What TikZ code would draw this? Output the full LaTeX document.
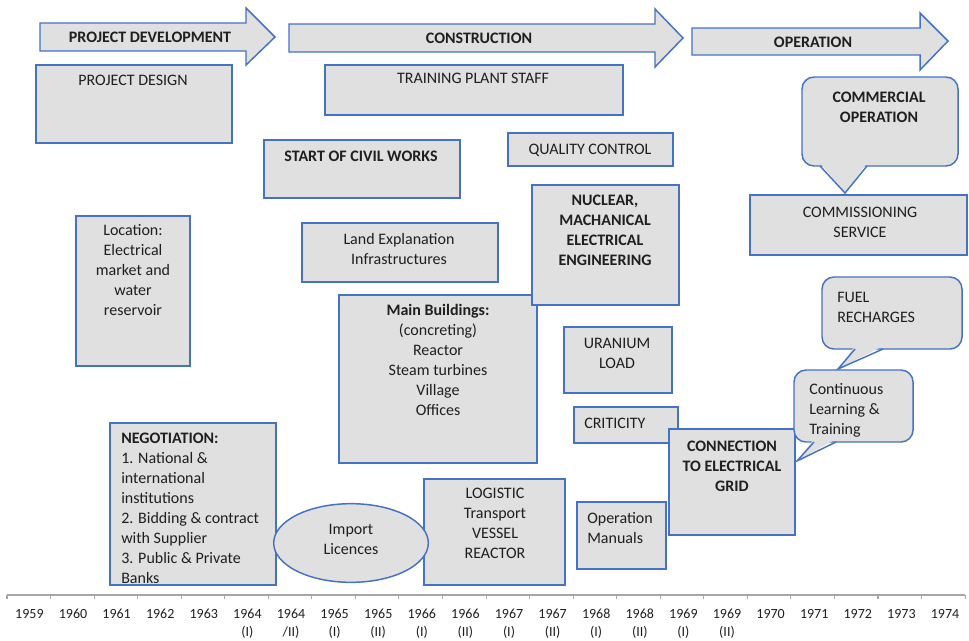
\documentclass[tikz,border=0pt]{standalone}
\usepackage{fontspec}
\setmainfont{Carlito}
\usetikzlibrary{fit,shapes.geometric}
\definecolor{boxfill}{HTML}{E0E0E0}
\definecolor{boxline}{HTML}{4472C4}
\definecolor{inkgray}{HTML}{1F1F1F}
\definecolor{axisgray}{HTML}{A6A6A6}

\begin{document}
\begin{tikzpicture}[
	x=0.75pt, y=-0.75pt,
	every node/.style={inner sep=0pt, text=inkgray, font=\fontsize{12}{15}\selectfont},
	box/.style={draw=boxline, fill=boxfill, line width=1.1pt},
	phase/.style={draw=boxline, fill=boxfill, line width=1.1pt, line join=miter},
	bubble/.style={draw=boxline, fill=boxfill, line width=1.1pt, rounded corners=9pt},
	txt/.style={align=center, anchor=base},
	lefttxt/.style={align=left, anchor=base west},
	boldtxt/.style={align=center, anchor=base, font=\fontsize{12}{15}\selectfont\bfseries},
	axisline/.style={draw=axisgray, line width=0.8pt},
	yearlbl/.style={anchor=base, font=\fontsize{10.5}{13.5}\selectfont}
	]
	\useasboundingbox (0,0) rectangle (969,640);

	% phases
	\draw[phase] (40,23) -- (246,23) -- (246,8) -- (275,37) -- (246,65) -- (246,51) -- (40,51) -- cycle;
	\draw[phase] (289,24) -- (655,24) -- (655,9) -- (683,38) -- (655,67) -- (655,52) -- (289,52) -- cycle;
	\draw[phase] (692,28) -- (920,28) -- (920,13) -- (948,41) -- (920,70) -- (920,55) -- (692,55) -- cycle;
	\node[boldtxt] (devlbl) at (150,42) {PROJECT DEVELOPMENT};
	\node[boldtxt] (constrlbl) at (479,43) {CONSTRUCTION};
	\node[boldtxt] (operlbl) at (813,47) {OPERATION};

	% boxes
	\node[box, fit={(36,65) (232,143)}] (design) {};
	\node[box, fit={(325,65) (623,115)}] (training) {};
	\node[box, fit={(750,195) (967,255)}] (commission) {};
	\node[box, fit={(264,140) (460,198)}] (civil) {};
	\node[box, fit={(508,133) (673,166)}] (quality) {};
	\node[box, fit={(302,223) (498,282)}] (land) {};
	\node[box, fit={(339,295) (537,463)}] (buildings) {};
	\node[box, fit={(532,185) (679,305)}] (engineering) {};
	\node[box, fit={(76,216) (190,366)}] (location) {};
	\node[box, fit={(564,327) (672,393)}] (uranium) {};
	\node[box, fit={(574,407) (678,443)}] (criticity) {};
	\node[box, fit={(669,429) (795,535)}] (grid) {};
	\node[box, fit={(110,423) (276,585)}] (negotiation) {};
	\node[box, fit={(424,479) (565,585)}] (logistic) {};
	\node[box, fit={(577,502) (666,569)}] (manuals) {};
	\node[box, ellipse, minimum width=116pt, minimum height=59pt] (licences) at (351,543) {};

	% callouts
	\draw[bubble] (802,77) rectangle (958,166);
	\fill[boxfill] (820,163) -- (845,193) -- (867,163) -- cycle;
	\draw[boxline, line width=1.1pt] (820,166) -- (845,193) -- (867,166);
	\draw[bubble] (822,277) rectangle (962,349);
	\fill[boxfill] (855,346) -- (838,369) -- (883,346) -- cycle;
	\draw[boxline, line width=1.1pt] (855,349) -- (838,369) -- (883,349);
	\draw[bubble] (794,370) rectangle (913,442);
	\fill[boxfill] (814,439) -- (797,461) -- (836,439) -- cycle;
	\draw[boxline, line width=1.1pt] (814,442) -- (797,461) -- (836,442);

	% texts (base = last line)
	\node[txt] (designlbl) at (133,85) {PROJECT DESIGN};
	\node[txt] (traininglbl) at (473,83) {TRAINING PLANT STAFF};
	\node[boldtxt] (commerciallbl) at (879,122) {COMMERCIAL\\OPERATION};
	\node[txt] (commissionlbl) at (860,237) {COMMISSIONING\\SERVICE};
	\node[boldtxt] (civillbl) at (361,161) {START OF CIVIL WORKS};
	\node[txt] (qualitylbl) at (590,154) {QUALITY CONTROL};
	\node[boldtxt] (engineeringlbl) at (605,265) {NUCLEAR,\\MACHANICAL\\ELECTRICAL\\ENGINEERING};
	\node[txt] (landlbl) at (399,264) {Land Explanation\\Infrastructures};
	\node[txt] (buildingslbl) at (438,415) {\textbf{Main Buildings:}\\(concreting)\\Reactor\\Steam turbines\\Village\\Offices};
	\node[txt] (locationlbl) at (133,315) {Location:\\Electrical\\market and\\water\\reservoir};
	\node[txt] (uraniumlbl) at (617,368) {URANIUM\\LOAD};
	\node[lefttxt] (criticitylbl) at (584,428) {CRITICITY};
	\node[boldtxt] (gridlbl) at (732,491) {CONNECTION\\TO ELECTRICAL\\GRID};
	\node[lefttxt] (fuellbl) at (837,322) {FUEL\\RECHARGES};
	\node[lefttxt] (learninglbl) at (809,434) {Continuous\\Learning \&\\Training};
	\node[lefttxt] (negotiationlbl) at (121,583) {\textbf{NEGOTIATION:}\\1. National \&\\international\\institutions\\2. Bidding \& contract\\with Supplier\\3. Public \& Private\\Banks};
	\node[txt] (licenceslbl) at (351,554) {Import\\Licences};
	\node[txt] (logisticlbl) at (495,558) {LOGISTIC\\Transport\\VESSEL\\REACTOR};
	\node[lefttxt] (manualslbl) at (587,543) {Operation\\Manuals};

	% time axis
	\coordinate (axisstart) at (7,595);
	\coordinate (axisend) at (965,595);
	\draw[axisline] (axisstart) -- (axisend);
	\foreach \t in {0,...,22}
		\draw[axisline] ({7+43.55*\t},595) -- ++(0,4);
	\foreach \yr/\half [count=\i] in {1959/{},1960/{},1961/{},1962/{},1963/{},1964/(I),1964/{/II)},1965/(I),1965/(II),1966/(I),1966/(II),1967/(I),1967/(II),1968/(I),1968/(II),1969/(I),1969/(II),1970/{},1971/{},1972/{},1973/{},1974/{}}
	{
		\node[yearlbl] (yr\i) at ({7.6+43.6*\i-21.8},618) {\yr};
		\node[yearlbl] (half\i) at ({7.6+43.6*\i-21.8},636) {\half};
	}
\end{tikzpicture}
\end{document}
